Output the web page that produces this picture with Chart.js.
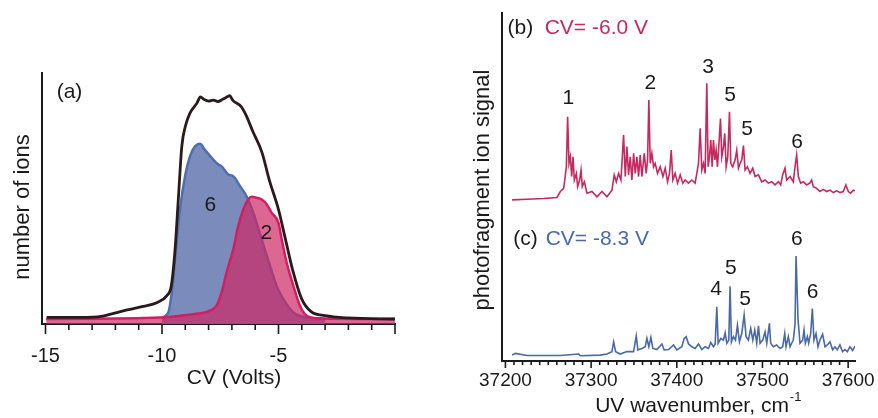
<!DOCTYPE html>
<html>
<head>
<meta charset="utf-8">
<script src="https://cdn.jsdelivr.net/npm/chart.js@4.4.1/dist/chart.umd.min.js"></script>
<style>
  html, body { margin: 0; padding: 0; background: #fff; }
  #wrap { position: relative; width: 878px; height: 418px; }
  .box { position: absolute; top: 0; height: 418px; }
  #box-a { left: 0; width: 440px; }
  #box-bc { left: 440px; width: 438px; }
</style>
</head>
<body>
<div id="wrap">
  <div class="box" id="box-a"><canvas id="cv-chart"></canvas></div>
  <div class="box" id="box-bc"><canvas id="uv-chart"></canvas></div>
</div>
<script>
/* ── (a) CV 扫描：离子数 vs 补偿电压 ── */
const cvTotal   = [-14.95, -13.5, -12.6, -12.2, -11.5, -10.8, -10.2, -9.8, -9.6, -9.45, -9.3, -9.15, -9.0, -8.8, -8.5, -8.35, -8.2, -8.0, -7.8, -7.6, -7.4, -7.2, -7.1, -6.95, -6.6, -6.4, -6.1, -5.7, -5.4, -5.0, -4.7, -4.4, -4.0, -3.6, -3.0, -2.0, 0];
const ionsTotal = [2.6, 2.6, 3.0, 3.9, 5.6, 7.0, 8.6, 11.2, 15.2, 28.4, 49.6, 70.8, 78.7, 84.0, 88.0, 90.5, 89.5, 88.8, 89.2, 88.6, 89.5, 90.5, 91.0, 89.0, 86.6, 83.3, 76.7, 68.1, 57.5, 45.6, 33.7, 21.8, 9.9, 4.9, 3.3, 2.4, 2.0];

const cvConf6   = [-10.0, -9.73, -9.58, -9.44, -9.23, -9.01, -8.8, -8.58, -8.37, -8.16, -7.8, -7.58, -7.44, -7.15, -6.94, -6.65, -6.37, -6.08, -5.72, -5.36, -5.08, -4.79, -4.36, -3.79, -3.0];
const ionsConf6 = [2.6, 4.6, 12.6, 25.8, 45.6, 58.9, 66.8, 70.8, 71.8, 69.4, 65.5, 63.5, 62.8, 59.5, 58.9, 54.9, 50.9, 44.3, 33.7, 23.1, 15.2, 9.9, 4.6, 2.6, 2.2];

const cvConf2   = [-14.97, -10.1, -9.23, -8.66, -8.16, -7.94, -7.66, -7.44, -7.23, -6.94, -6.73, -6.51, -6.3, -6.15, -5.94, -5.72, -5.5, -5.29, -5.0, -4.86, -4.65, -4.36, -4.08, -3.79, -3.22, 0];
const ionsConf2 = [2.0, 2.6, 3.3, 3.9, 4.6, 5.3, 7.3, 12.6, 20.5, 29.8, 39.0, 45.6, 49.6, 50.7, 50.3, 49.6, 47.6, 44.3, 40.3, 33.7, 24.5, 15.2, 7.3, 3.3, 2.2, 2.0];

const cvTickLabels = [-15, -10, -5];
const notesAText = ['(a)', '6', '2'];
const notesAX    = [-13.97, -7.93, -5.52];
const notesAY    = [92.4, 47.4, 36.3];

/* ── (b)(c) UV 光解离谱 ── */
const wnB = [37207.8, 37225.3, 37244.7, 37260.2, 37264.1, 37268.0, 37271.1, 37272.6, 37274.2, 37275.8,
  37277.3, 37278.9, 37280.4, 37282.8, 37284.3, 37286.6, 37288.2, 37289.7, 37292.1, 37295.2,
  37301.0, 37306.8, 37312.7, 37318.5, 37324.3, 37327.0, 37329.4, 37332.1, 37334.8, 37337.9,
  37339.9, 37341.8, 37343.7, 37345.7, 37347.6, 37349.6, 37351.5, 37353.5, 37355.4, 37357.3,
  37359.3, 37362.0, 37364.3, 37365.9, 37367.4, 37369.0, 37370.9, 37372.9, 37374.8, 37377.5,
  37380.7, 37383.8, 37386.5, 37389.2, 37391.5, 37393.5, 37395.4, 37398.1, 37400.9, 37404.0,
  37407.1, 37409.8, 37413.7, 37417.6, 37421.4, 37423.4, 37425.3, 37427.3, 37429.2, 37431.2,
  37433.1, 37435.0, 37436.6, 37438.2, 37439.7, 37441.3, 37442.8, 37444.4, 37445.9, 37447.5,
  37449.0, 37451.0, 37452.5, 37454.5, 37456.0, 37457.6, 37459.5, 37461.5, 37463.0, 37465.3,
  37468.1, 37470.0, 37472.0, 37473.9, 37475.8, 37477.8, 37479.7, 37482.4, 37485.5, 37488.7,
  37491.4, 37495.3, 37499.1, 37503.0, 37506.9, 37510.8, 37514.7, 37518.6, 37521.3, 37523.6,
  37526.3, 37528.3, 37532.2, 37536.0, 37538.0, 37539.9, 37541.9, 37544.6, 37547.7, 37551.6,
  37555.5, 37557.4, 37559.4, 37563.2, 37567.1, 37571.0, 37574.9, 37578.8, 37582.7, 37586.6,
  37590.4, 37594.3, 37597.4, 37600.2, 37602.9, 37606.0, 37608.0];
const sigB = [46.3, 46.5, 46.7, 47.0, 48.7, 49.6, 55.8, 70.2, 56.8, 58.7,
  53.0, 58.7, 52.0, 53.9, 50.1, 52.0, 54.9, 50.1, 51.5, 48.2,
  48.7, 47.2, 48.7, 47.2, 49.1, 53.5, 51.5, 53.9, 52.0, 64.9,
  53.0, 61.6, 53.5, 58.7, 52.0, 59.7, 53.9, 58.7, 53.0, 59.2,
  53.0, 59.7, 53.9, 57.8, 75.0, 56.8, 59.7, 55.8, 56.8, 53.9,
  55.8, 53.0, 55.4, 51.5, 53.9, 60.6, 52.0, 53.9, 51.1, 53.5,
  51.1, 52.0, 51.1, 52.0, 51.1, 53.9, 56.8, 66.9, 54.9, 56.8,
  53.9, 79.8, 55.8, 58.7, 63.5, 55.8, 63.5, 57.8, 60.6, 55.8,
  61.6, 69.7, 58.7, 61.6, 65.4, 55.8, 58.7, 71.6, 56.8, 55.8,
  57.8, 60.6, 55.4, 56.8, 57.8, 61.9, 54.9, 55.8, 53.9, 55.4,
  53.0, 53.5, 51.5, 52.0, 51.1, 51.5, 50.6, 51.5, 50.6, 53.5,
  55.4, 52.0, 53.0, 51.5, 55.8, 59.2, 53.0, 51.1, 51.5, 50.6,
  51.2, 52.0, 50.1, 49.6, 48.7, 49.3, 48.7, 49.1, 48.4, 48.9,
  48.4, 48.7, 50.6, 48.7, 48.2, 49.1, 48.9];

const wnC = [37207.8, 37211.7, 37225.3, 37244.7, 37264.1, 37285.5, 37287.4, 37310.7, 37318.5, 37324.3,
  37326.3, 37328.6, 37334.0, 37341.8, 37349.6, 37352.7, 37354.6, 37359.3, 37363.2, 37365.1,
  37367.4, 37369.8, 37372.1, 37376.8, 37382.6, 37385.3, 37390.4, 37396.2, 37400.1, 37405.9,
  37408.6, 37411.0, 37413.7, 37417.6, 37421.4, 37425.3, 37429.2, 37433.1, 37437.0, 37439.7,
  37442.8, 37444.8, 37446.7, 37448.3, 37451.4, 37454.5, 37456.4, 37458.4, 37460.7, 37462.2,
  37463.8, 37466.1, 37468.5, 37470.8, 37473.1, 37475.8, 37478.6, 37480.9, 37483.6, 37486.3,
  37488.7, 37491.0, 37493.3, 37495.3, 37497.2, 37500.3, 37503.0, 37505.0, 37508.1, 37509.6,
  37512.7, 37516.6, 37520.5, 37523.6, 37526.0, 37527.5, 37530.2, 37532.2, 37534.1, 37536.0,
  37538.0, 37539.2, 37541.5, 37543.8, 37546.9, 37548.5, 37550.0, 37552.4, 37553.9, 37556.3,
  37558.2, 37560.1, 37562.5, 37564.8, 37567.1, 37570.2, 37573.0, 37575.7, 37578.8, 37581.9,
  37584.6, 37587.3, 37590.4, 37593.5, 37596.3, 37599.0, 37602.1, 37605.2, 37608.0];
const sigC = [1.7, 2.2, 1.6, 1.6, 1.6, 2.0, 1.5, 1.7, 2.0, 2.7,
  5.5, 2.7, 2.0, 2.7, 2.7, 7.2, 3.2, 3.6, 4.1, 6.5,
  4.1, 6.8, 3.6, 3.3, 4.9, 3.2, 3.3, 4.6, 3.2, 4.1,
  6.5, 7.0, 4.9, 4.1, 3.6, 4.9, 3.3, 4.1, 3.6, 5.3,
  4.1, 4.9, 15.6, 5.1, 6.5, 6.0, 8.1, 5.1, 6.0, 21.5,
  5.5, 7.0, 6.0, 10.3, 5.5, 7.9, 13.2, 7.0, 6.0, 9.4,
  6.0, 8.9, 5.1, 10.1, 5.1, 6.0, 8.4, 5.1, 10.8, 5.1,
  4.1, 4.6, 3.6, 4.1, 7.9, 4.1, 7.0, 4.1, 5.1, 6.0,
  10.5, 30.2, 12.0, 5.1, 6.0, 8.9, 5.1, 7.0, 5.1, 7.9,
  15.1, 6.0, 7.9, 4.1, 6.0, 7.7, 4.1, 4.6, 5.5, 3.2,
  4.1, 3.2, 4.6, 2.7, 3.3, 2.7, 4.1, 3.0, 4.3];

const notesBText = ['(b)', 'CV= -6.0 V', '1', '2', '3', '5', '5', '6',
                    '(c)', 'CV= -8.3 V', '4', '5', '5', '6', '6'];
const notesBX = [37217.5, 37306.1, 37273.4, 37369.0, 37436.6, 37462.2, 37482.0, 37540.3,
                 37223.3, 37307.2, 37445.9, 37463.0, 37479.7, 37540.0, 37558.6];
const notesBY = [95.7, 95.7, 75.6, 79.9, 84.5, 76.4, 66.7, 62.9,
                 35.1, 35.1, 20.7, 26.7, 17.8, 35.1, 19.9];

const INK = '#1a1a1a';
const PINK = '#c42a5e';
const BLUE = '#4a69a6';
const FONT = "'Liberation Sans', Arial, Helvetica, sans-serif";
const notesBColor = [INK, PINK, INK, INK, INK, INK, INK, INK, INK, BLUE, INK, INK, INK, INK, INK];

Chart.defaults.font.family = FONT;
Chart.defaults.color = INK;
Chart.defaults.animation = false;

const toXY = (xs, ys) => xs.map((x, i) => ({ x, y: ys[i] }));

// 刻度线、峰标注和轴标题
function decorPlugin(cfg) {
    return {
        id: 'decor',
        afterDraw(chart) {
            const { ctx, chartArea: area, scales: { x, y } } = chart;
            ctx.save();
            ctx.strokeStyle = INK;
            ctx.lineWidth = 1.6;
            x.ticks.forEach(t => {
                const px = x.getPixelForValue(t.value);
                const len = t.value % cfg.majorStep === 0 ? cfg.majorLen : cfg.minorLen;
                ctx.beginPath();
                ctx.moveTo(px, area.bottom);
                ctx.lineTo(px, area.bottom + len);
                ctx.stroke();
            });

            ctx.textAlign = 'center';
            ctx.textBaseline = 'middle';
            ctx.font = `${cfg.noteSize}px ${FONT}`;
            cfg.noteText.forEach((s, i) => {
                ctx.fillStyle = cfg.noteColor ? cfg.noteColor[i] : INK;
                ctx.fillText(s, x.getPixelForValue(cfg.noteX[i]), y.getPixelForValue(cfg.noteY[i]));
            });

            ctx.fillStyle = INK;
            ctx.font = `${cfg.titleSize}px ${FONT}`;
            const [tx, ty] = cfg.xTitlePos;
            ctx.fillText(cfg.xTitle, tx, ty);
            if (cfg.xTitleSup) {
                const w = ctx.measureText(cfg.xTitle).width;
                ctx.font = `13px ${FONT}`;
                ctx.textAlign = 'left';
                ctx.fillText(cfg.xTitleSup, tx + w / 2 + 1, ty - 9);
                ctx.textAlign = 'center';
            }
            ctx.translate(cfg.yTitlePos[0], cfg.yTitlePos[1]);
            ctx.rotate(-Math.PI / 2);
            ctx.font = `${cfg.yTitleSize}px ${FONT}`;
            ctx.fillText(cfg.yTitle, 0, 0);
            ctx.restore();
        },
    };
}

new Chart(document.getElementById('cv-chart'), {
    type: 'line',
    data: {
        datasets: [
            {
                label: '6',
                data: toXY(cvConf6, ionsConf6),
                borderColor: '#4d6fb0',
                backgroundColor: 'rgba(112,129,181,0.92)',
                fill: 'origin',
                borderWidth: 2.5,
                order: 3,
            },
            {
                label: '2',
                data: toXY(cvConf2, ionsConf2),
                borderColor: '#d11f63',
                backgroundColor: 'rgba(205,40,100,0.7)',
                fill: 'origin',
                borderWidth: 2.5,
                order: 2,
            },
            {
                label: 'total',
                data: toXY(cvTotal, ionsTotal),
                borderColor: '#2b1a1c',
                fill: false,
                borderWidth: 2.8,
                order: 1,
            },
        ],
    },
    options: {
        responsive: true,
        maintainAspectRatio: false,
        layout: { padding: { left: 42, top: 73, right: 45, bottom: 0 } },
        elements: { point: { radius: 0 }, line: { cubicInterpolationMode: 'monotone' } },
        plugins: { legend: { display: false }, tooltip: { enabled: false } },
        scales: {
            x: {
                type: 'linear', min: -15.15, max: 0,
                afterFit: (s) => { s.height = 94; },
                border: { display: true, color: INK, width: 2 },
                grid: { display: false },
                ticks: {
                    stepSize: 1, includeBounds: false, autoSkip: false, maxRotation: 0,
                    padding: 12, font: { size: 20 }, color: INK,
                    callback: (v) => cvTickLabels.includes(v) ? String(v) : '',
                },
            },
            y: {
                min: 0, max: 100,
                afterFit: (s) => { s.width = 0; },
                border: { display: true, color: INK, width: 2 },
                grid: { display: false },
                ticks: { display: false },
            },
        },
    },
    plugins: [decorPlugin({
        majorStep: 5, majorLen: 10, minorLen: 6,
        noteText: notesAText, noteX: notesAX, noteY: notesAY, noteSize: 21,
        titleSize: 21, xTitle: 'CV (Volts)', xTitlePos: [234, 378],
        yTitle: 'number of ions', yTitleSize: 22, yTitlePos: [23, 207],
    })],
});

new Chart(document.getElementById('uv-chart'), {
    type: 'line',
    data: {
        datasets: [
            { label: 'CV= -6.0 V', data: toXY(wnB, sigB), borderColor: PINK, borderWidth: 1.6 },
            { label: 'CV= -8.3 V', data: toXY(wnC, sigC), borderColor: BLUE, borderWidth: 1.6 },
        ],
    },
    options: {
        responsive: true,
        maintainAspectRatio: false,
        layout: { padding: { left: 62, top: 13, right: 23, bottom: 0 } },
        elements: { point: { radius: 0 }, line: { tension: 0 } },
        plugins: { legend: { display: false }, tooltip: { enabled: false } },
        scales: {
            x: {
                type: 'linear', min: 37196, max: 37608,
                afterFit: (s) => { s.height = 57; },
                border: { display: true, color: INK, width: 2 },
                grid: { display: false },
                ticks: {
                    stepSize: 10, includeBounds: false, autoSkip: false, maxRotation: 0,
                    padding: 0, font: { size: 19 }, color: INK,
                    callback: (v) => v % 100 === 0 ? String(v) : '',
                },
            },
            y: {
                min: 0, max: 100,
                afterFit: (s) => { s.width = 0; },
                border: { display: true, color: INK, width: 2 },
                grid: { display: false },
                ticks: { display: false },
            },
        },
    },
    plugins: [decorPlugin({
        majorStep: 100, majorLen: 7, minorLen: 4,
        noteText: notesBText, noteX: notesBX, noteY: notesBY, noteColor: notesBColor, noteSize: 21,
        titleSize: 21, xTitle: 'UV wavenumber, cm', xTitleSup: '-1', xTitlePos: [252, 406],
        yTitle: 'photofragment ion signal', yTitleSize: 22, yTitlePos: [43, 190],
    })],
});
</script>
</body>
</html>
